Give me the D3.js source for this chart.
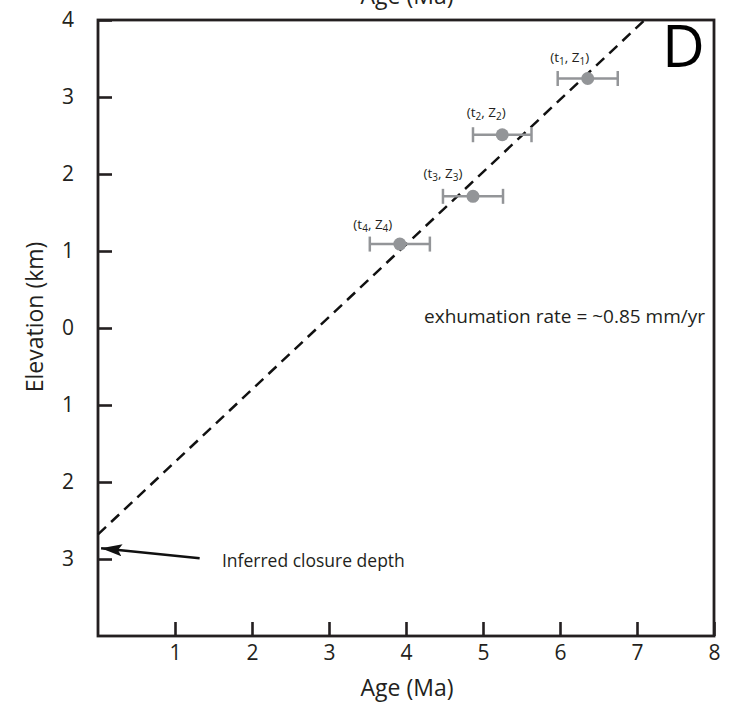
<!DOCTYPE html>
<html>
<head>
<meta charset="utf-8">
<script src="https://cdn.jsdelivr.net/npm/d3@7"></script>
<style>
  body { margin: 0; background: #fff; }
  svg { display: block; font-family: "Open Sans", sans-serif; }
</style>
</head>
<body>
<svg width="733" height="704"></svg>
<script>
// sample ages (Ma), elevations (km) and age uncertainty
const ages = [6.36, 5.25, 4.87, 3.92];
const elevs = [3.24, 2.51, 1.71, 1.09];
const ageErr = [0.39, 0.38, 0.39, 0.39];
const subs = ["1", "2", "3", "4"];

// regression line end points
const lineAges = [0, 7.1];
const lineElevs = [-2.68, 4];

// closure depth arrow
const arrowAges = [1.32, 0.04];
const arrowElevs = [-2.99, -2.86];

const xTicks = [1, 2, 3, 4, 5, 6, 7, 8];
const yTicks = [-3, -2, -1, 0, 1, 2, 3, 4];

const axisCol = "#231f20",
    grey = "#939598";

const svg = d3.select("svg");

const x = d3.scaleLinear().domain([0, 8]).range([98, 714]);
const y = d3.scaleLinear().domain([-4, 4]).range([636, 20]);

// axes with inward ticks
const xAxis = svg.append("g")
    .attr("transform", "translate(0," + y(-4) + ")")
    .call(d3.axisBottom(x).tickValues(xTicks).tickSizeInner(-14).tickSizeOuter(0).tickPadding(9));

const yAxis = svg.append("g")
    .attr("transform", "translate(" + x(0) + ",0)")
    .call(d3.axisLeft(y).tickValues(yTicks).tickFormat(d => Math.abs(d)).tickSizeInner(-14).tickSizeOuter(0).tickPadding(24));

[xAxis, yAxis].forEach(a => {
    a.select(".domain").remove();
    a.selectAll("line").attr("stroke", axisCol).attr("stroke-width", 2.6);
    a.selectAll("text").attr("fill", axisCol).style("font-size", "21px").style("font-family", "Open Sans, sans-serif");
});

// frame
svg.append("rect")
    .attr("x", x(0)).attr("y", y(4))
    .attr("width", x(8) - x(0)).attr("height", y(-4) - y(4))
    .attr("fill", "none").attr("stroke", axisCol).attr("stroke-width", 2.8);

// dashed fit line
svg.append("line")
    .attr("x1", x(lineAges[0])).attr("y1", y(lineElevs[0]))
    .attr("x2", x(lineAges[1])).attr("y2", y(lineElevs[1]))
    .attr("stroke", "#111").attr("stroke-width", 2.5)
    .attr("stroke-dasharray", "11,7");

// error bars + points
const pts = ages.map((a, i) => ({ age: a, elev: elevs[i], err: ageErr[i], sub: subs[i] }));
const labelDx = [-18, -16, -30, -27],
    labelDy = [-17, -18, -18, -15];

const pg = svg.append("g").selectAll("g").data(pts).enter().append("g");

pg.append("line")
    .attr("x1", d => x(d.age - d.err)).attr("x2", d => x(d.age + d.err))
    .attr("y1", d => y(d.elev)).attr("y2", d => y(d.elev))
    .attr("stroke", grey).attr("stroke-width", 2.5);

pg.selectAll(".cap").data(d => [d.age - d.err, d.age + d.err].map(v => ({ v: v, e: d.elev })))
    .enter().append("line").attr("class", "cap")
    .attr("x1", d => x(d.v)).attr("x2", d => x(d.v))
    .attr("y1", d => y(d.e) - 7.5).attr("y2", d => y(d.e) + 7.5)
    .attr("stroke", grey).attr("stroke-width", 2.5);

pg.append("circle")
    .attr("cx", d => x(d.age)).attr("cy", d => y(d.elev))
    .attr("r", 6.5).attr("fill", grey);

const lab = pg.append("text")
    .attr("x", (d, i) => x(d.age) + labelDx[i])
    .attr("y", (d, i) => y(d.elev) + labelDy[i])
    .attr("text-anchor", "middle")
    .attr("fill", axisCol)
    .style("font-size", "13.5px");
lab.append("tspan").text("(t");
lab.append("tspan").attr("dy", 3).style("font-size", "10px").text(d => d.sub);
lab.append("tspan").attr("dy", -3).text(", Z");
lab.append("tspan").attr("dy", 3).style("font-size", "10px").text(d => d.sub);
lab.append("tspan").attr("dy", -3).text(")");

// arrow to closure depth
svg.append("defs").append("marker")
    .attr("id", "head").attr("viewBox", "0 0 21 12")
    .attr("refX", 21).attr("refY", 6)
    .attr("markerWidth", 21).attr("markerHeight", 12)
    .attr("markerUnits", "userSpaceOnUse")
    .attr("orient", "auto")
    .append("path").attr("d", "M0,0L21,6L0,12L4,6Z").attr("fill", "#111");

svg.append("line")
    .attr("x1", x(arrowAges[0])).attr("y1", y(arrowElevs[0]))
    .attr("x2", x(arrowAges[1])).attr("y2", y(arrowElevs[1]))
    .attr("stroke", "#111").attr("stroke-width", 2.5)
    .attr("marker-end", "url(#head)");

svg.append("text")
    .attr("x", x(1.61)).attr("y", y(-3.1))
    .attr("fill", axisCol).style("font-size", "17.5px")
    .text("Inferred closure depth");

svg.append("text")
    .attr("x", 705).attr("y", 323)
    .attr("text-anchor", "end")
    .attr("fill", axisCol).style("font-size", "19px")
    .text("exhumation rate = ~0.85 mm/yr");

// panel letter
svg.append("text")
    .attr("x", 662).attr("y", 67)
    .attr("fill", "#000").style("font-size", "59px")
    .text("D");

// axis titles
svg.append("text")
    .attr("x", 407).attr("y", 696)
    .attr("text-anchor", "middle")
    .attr("fill", axisCol).style("font-size", "23px")
    .text("Age (Ma)");

// duplicate title, clipped by the top edge as in the source figure
svg.append("text")
    .attr("x", 407).attr("y", 4)
    .attr("text-anchor", "middle")
    .attr("fill", axisCol).style("font-size", "23px")
    .text("Age (Ma)");

svg.append("text")
    .attr("transform", "translate(43,317) rotate(-90)")
    .attr("text-anchor", "middle")
    .attr("fill", axisCol).style("font-size", "23px")
    .text("Elevation (km)");
</script>
</body>
</html>
